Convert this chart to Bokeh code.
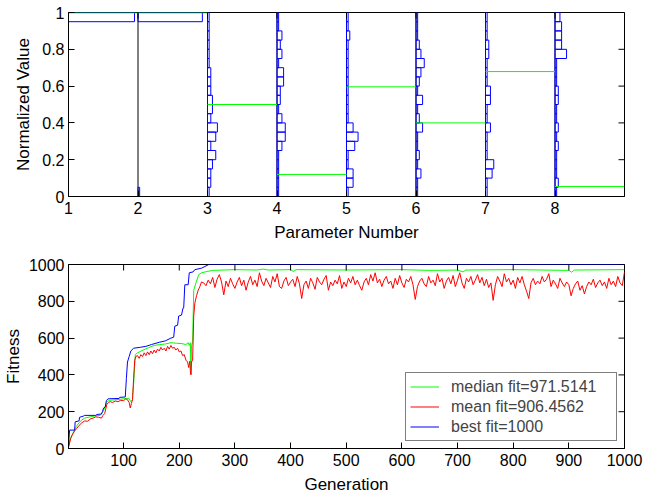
import math
from bokeh.plotting import figure
from bokeh.layouts import column
from bokeh.models import FixedTicker, Range1d, Legend, LegendItem
from bokeh.embed import file_html
from bokeh.resources import INLINE

FONT = "Liberation Sans"

# ---------------- data: top panel (parameter distributions) ----------------
param_numbers = [1, 2, 3, 4, 5, 6, 7, 8]
bin_lower = [0.00, 0.05, 0.10, 0.15, 0.20, 0.25, 0.30, 0.35, 0.40, 0.45,
             0.50, 0.55, 0.60, 0.65, 0.70, 0.75, 0.80, 0.85, 0.90, 0.95]
bin_height = 0.05
population = 40
# counts per bin (bin 0 = [0,0.05) ... bin 19 = [0.95,1])
counts_p1 = [0, 0, 0, 0, 0, 0, 0, 0, 0, 0, 0, 0, 0, 0, 0, 0, 0, 0, 0, 40]
counts_p2 = [1, 0, 0, 0, 0, 0, 0, 0, 0, 0, 0, 0, 0, 0, 0, 0, 0, 0, 0, 39]
counts_p3 = [1, 2, 2, 3, 5, 2, 5, 6, 2, 3, 3, 2, 2, 2, 1, 1, 1, 1, 1, 1]
counts_p4 = [1, 1, 1, 1, 1, 3, 5, 5, 3, 1, 2, 2, 4, 4, 1, 3, 2, 3, 1, 1]
counts_p5 = [1, 4, 4, 1, 1, 5, 7, 4, 1, 1, 1, 1, 1, 1, 1, 1, 1, 2, 1, 1]
counts_p6 = [1, 1, 3, 1, 2, 1, 1, 4, 2, 1, 4, 1, 2, 3, 5, 3, 2, 1, 1, 1]
counts_p7 = [1, 1, 4, 5, 1, 1, 1, 3, 1, 1, 3, 3, 1, 1, 1, 2, 2, 1, 1, 1]
counts_p8 = [1, 2, 1, 1, 1, 2, 1, 2, 1, 1, 2, 2, 1, 1, 1, 7, 4, 4, 4, 3]
all_counts = [counts_p1, counts_p2, counts_p3, counts_p4,
              counts_p5, counts_p6, counts_p7, counts_p8]
best_params = [0.998, 0.998, 0.50, 0.12, 0.596, 0.40, 0.679, 0.054]
top_yticks = [0, 0.2, 0.4, 0.6, 0.8, 1]

# ---------------- data: bottom panel (fitness history) ----------------
best_gen = [1, 3, 12, 13, 20, 21, 27, 30, 50, 52, 60, 62, 64, 67, 69, 72, 92, 93, 103,
            105, 107, 110, 113, 118, 130, 140, 150, 165, 175, 185, 190, 192, 197, 199,
            204, 207, 208, 210, 216, 218, 225, 228, 240, 250, 253, 1000]
best_fit = [20, 100, 100, 145, 150, 170, 175, 180, 180, 185, 187, 200, 220, 225, 260, 270,
            272, 278, 280, 380, 470, 500, 530, 545, 550, 555, 565, 578, 585, 600, 605,
            665, 670, 720, 725, 765, 765, 890, 890, 955, 960, 972, 980, 995, 1000, 1000]

median_gen = [1, 3, 6, 10, 15, 20, 25, 30, 40, 50, 58, 62, 66, 70, 75, 85, 95, 105, 110,
              113, 116, 119, 121, 125, 135, 145, 155, 165, 175, 185, 195, 205, 212, 216,
              218, 220, 221, 222, 224, 226, 230, 235, 240, 250, 260, 300, 340, 350, 360,
              400, 405, 410, 500, 600, 650, 700, 710, 715, 800, 850, 900, 905, 910, 1000]
median_fit = [10, 40, 65, 90, 120, 140, 155, 165, 172, 178, 180, 195, 220, 255, 262, 265,
              268, 272, 270, 255, 265, 400, 510, 520, 535, 548, 560, 565, 568, 575, 572,
              570, 565, 575, 560, 575, 405, 560, 580, 860, 900, 945, 955, 962, 968, 972,
              970, 975, 970, 972, 962, 972, 970, 972, 968, 970, 960, 970, 972, 970, 968,
              958, 970, 972]

mean_gen_early = [1, 3, 5, 8, 12, 16, 20, 25, 30, 35, 40, 45, 50, 55, 60, 63, 66, 70, 73,
                  76, 80, 85, 90, 95, 100, 104, 107, 110, 112, 114, 116, 118, 120, 122,
                  125, 128, 131, 134, 137, 140, 143, 146, 149, 152, 155, 158, 161, 164,
                  167, 170, 173, 176, 179, 182, 185, 188, 191, 194, 197, 200, 203, 206,
                  209, 212, 215, 217, 219, 220, 221, 222, 224, 226, 228, 231, 234, 237, 240]
mean_fit_early = [5, 30, 55, 75, 95, 110, 125, 140, 150, 148, 160, 165, 172, 170, 165, 180,
                  190, 240, 250, 255, 250, 258, 255, 262, 260, 270, 265, 250, 220, 245,
                  265, 380, 480, 500, 505, 490, 510, 500, 520, 505, 525, 510, 530, 515,
                  535, 520, 540, 530, 550, 535, 545, 530, 555, 540, 560, 545, 550, 535,
                  545, 525, 530, 505, 510, 480, 470, 440, 475, 420, 400, 470, 480, 720,
                  790, 830, 860, 880, 905]
# generations 244, 248, ..., 1000
mean_fit_late = [900, 885, 915, 895, 930, 875, 920, 945, 905, 835,
                 910, 880, 925, 895, 870, 905, 930, 885, 915, 860,
                 905, 935, 890, 915, 880, 955, 910, 885, 925, 900,
                 875, 935, 905, 950, 880, 870, 910, 930, 885, 905,
                 920, 880, 935, 895, 815, 890, 910, 870, 925, 900,
                 865, 930, 905, 890, 920, 940, 860, 905, 885, 915,
                 895, 940, 870, 905, 880, 925, 900, 935, 890, 915,
                 885, 860, 905, 925, 890, 945, 910, 955, 900, 920,
                 880, 915, 935, 895, 910, 870, 925, 890, 940, 900,
                 875, 920, 905, 935, 890, 810, 880, 910, 925, 895,
                 880, 935, 900, 915, 885, 950, 905, 925, 870, 910,
                 930, 895, 940, 880, 915, 955, 900, 870, 925, 905,
                 935, 890, 915, 945, 900, 930, 885, 920, 875, 900,
                 805, 890, 935, 910, 880, 950, 905, 925, 890, 915,
                 870, 930, 900, 935, 890, 855, 815, 900, 925, 890,
                 910, 895, 935, 905, 920, 950, 880, 915, 895, 870,
                 925, 900, 880, 905, 890, 830, 870, 895, 910, 860,
                 885, 840, 880, 905, 890, 920, 875, 900, 915, 885,
                 905, 870, 925, 890, 910, 880, 935, 900, 885, 960]
mean_gen_late = list(range(244, 244 + 4 * len(mean_fit_late), 4))
mean_gen = mean_gen_early + mean_gen_late
mean_fit = mean_fit_early + mean_fit_late

gen_ticks = [100, 200, 300, 400, 500, 600, 700, 800, 900, 1000]
fit_ticks = [0, 200, 400, 600, 800, 1000]
legend_labels = ["median fit=971.5141", "mean fit=906.4562", "best fit=1000"]

GREEN = "#00ff00"
RED = "#ff0000"
BLUE = "#0000ff"
TICK = 6


def style_axis(ax, standoff=4):
    ax.major_tick_in = TICK
    ax.major_tick_out = 0
    ax.minor_tick_in = 0
    ax.minor_tick_out = 0
    ax.axis_line_color = "black"
    ax.major_tick_line_color = "black"
    ax.major_label_text_font = FONT
    ax.major_label_text_font_size = "16px"
    ax.major_label_text_color = "black"
    ax.major_label_standoff = standoff
    ax.axis_label_text_font = FONT
    ax.axis_label_text_font_size = "17px"
    ax.axis_label_text_font_style = "normal"
    ax.axis_label_text_color = "black"


def mirror_ticks(p, xticks, yticks, xr, yr):
    # inward tick marks on the top and right edges of the box (clipped to the frame)
    p.scatter(x=xticks, y=[yr.end] * len(xticks), marker="dash", angle=math.pi / 2,
              size=2 * TICK, line_color="black", line_width=1)
    p.scatter(x=[xr.end] * len(yticks), y=yticks, marker="dash",
              size=2 * TICK, line_color="black", line_width=1)


# ---------------- top figure ----------------
xr1 = Range1d(1, 9)
yr1 = Range1d(0, 1)
p1 = figure(width=660, height=245, output_backend="svg", toolbar_location=None,
            x_range=xr1, y_range=yr1,
            min_border_left=68, min_border_right=35, min_border_top=12, min_border_bottom=49)
p1.xgrid.visible = False
p1.ygrid.visible = False
p1.outline_line_color = "black"

scale = 0.95 / population
lefts, rights, bottoms, tops = [], [], [], []
for pn, cnts in zip(param_numbers, all_counts):
    for lo, c in zip(bin_lower, cnts):
        if c > 0:
            lefts.append(pn)
            rights.append(pn + c * scale)
            bottoms.append(lo)
            tops.append(lo + bin_height)
p1.segment(x0=param_numbers[1:], y0=[0] * 7, x1=param_numbers[1:], y1=[1] * 7,
           line_color="black", line_width=1)
p1.quad(left=lefts, right=rights, bottom=bottoms, top=tops,
        fill_color=None, line_color=BLUE, line_width=1)
p1.segment(x0=param_numbers, y0=best_params, x1=[v + 1 for v in param_numbers], y1=best_params,
           line_color=GREEN, line_width=1)
mirror_ticks(p1, param_numbers, top_yticks, xr1, yr1)

p1.xaxis.ticker = FixedTicker(ticks=param_numbers)
p1.yaxis.ticker = FixedTicker(ticks=top_yticks)
p1.yaxis.major_label_overrides = {0: "0", 1: "1"}
p1.xaxis.axis_label = "Parameter Number"
p1.yaxis.axis_label = "Normalized Value"
style_axis(p1.xaxis[0], standoff=5)
style_axis(p1.yaxis[0], standoff=4)
p1.xaxis.axis_label_standoff = 6
p1.yaxis.axis_label_standoff = 6

# ---------------- bottom figure ----------------
xr2 = Range1d(1, 1000)
yr2 = Range1d(0, 1000)
p2 = figure(width=660, height=251, output_backend="svg", toolbar_location=None,
            x_range=xr2, y_range=yr2,
            min_border_left=68, min_border_right=36, min_border_top=19, min_border_bottom=47)
p2.xgrid.visible = False
p2.ygrid.visible = False
p2.outline_line_color = "black"

r_med = p2.line(median_gen, median_fit, line_color=GREEN, line_width=1)
r_mean = p2.line(mean_gen, mean_fit, line_color=RED, line_width=1)
r_best = p2.line(best_gen, best_fit, line_color=BLUE, line_width=1)
mirror_ticks(p2, gen_ticks, fit_ticks, xr2, yr2)

p2.xaxis.ticker = FixedTicker(ticks=gen_ticks)
p2.yaxis.ticker = FixedTicker(ticks=fit_ticks)
p2.xaxis.axis_label = "Generation"
p2.yaxis.axis_label = "Fitness"
style_axis(p2.xaxis[0], standoff=5)
style_axis(p2.yaxis[0], standoff=4)
p2.xaxis.axis_label_standoff = 6
p2.yaxis.axis_label_standoff = 3

legend = Legend(items=[LegendItem(label=legend_labels[0], renderers=[r_med]),
                       LegendItem(label=legend_labels[1], renderers=[r_mean]),
                       LegendItem(label=legend_labels[2], renderers=[r_best])],
                location=(337, 7))
legend.border_line_color = "black"
legend.border_line_width = 1
legend.background_fill_alpha = 1
legend.padding = 4
legend.spacing = 1
legend.margin = 0
legend.glyph_width = 29
legend.glyph_height = 19
legend.label_height = 19
legend.label_width = 161
legend.label_standoff = 12
legend.label_text_font = FONT
legend.label_text_font_size = "16px"
p2.add_layout(legend)

layout = column(p1, p2, spacing=0)
open("out.html", "w").write(file_html(layout, INLINE))
